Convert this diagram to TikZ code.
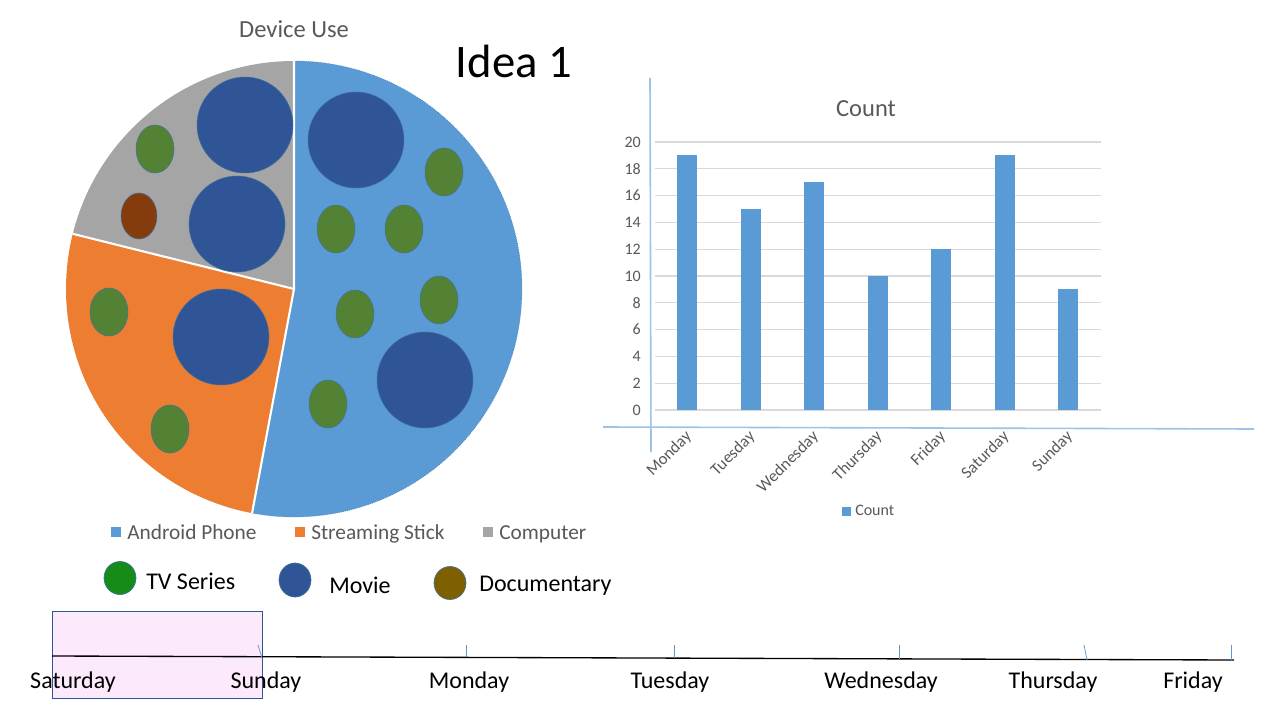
\documentclass[tikz,border=0pt]{standalone}
\usepackage{fontspec}
\setmainfont{Carlito}
\definecolor{android}{HTML}{5B9BD5}
\definecolor{stick}{HTML}{ED7D31}
\definecolor{comp}{HTML}{A5A5A5}
\definecolor{moviec}{HTML}{2F5597}
\definecolor{tvg}{HTML}{548235}
\definecolor{docb}{HTML}{843C0C}
\definecolor{tvleg}{HTML}{178B17}
\definecolor{docleg}{HTML}{7F6000}
\definecolor{edgec}{HTML}{41719C}
\definecolor{txtgray}{HTML}{595959}
\definecolor{gridc}{HTML}{D9D9D9}
\definecolor{axisblue}{HTML}{9DC3E6}
\definecolor{pinkc}{HTML}{FDE9FC}
\tikzset{
  moviedisc/.style={fill=moviec, draw=edgec, line width=0.4pt},
  tvdisc/.style={fill=tvg, draw=edgec, line width=0.4pt},
  docdisc/.style={fill=docb, draw=edgec, line width=0.4pt},
  graytxt/.style={inner sep=0pt, text=txtgray},
  blacktxt/.style={inner sep=0pt, text=black},
  tick/.style={draw=android, line width=0.6pt},
}
\begin{document}
\begin{tikzpicture}[x=0.75pt,y=-0.75pt]
\useasboundingbox[fill=white] (0,0) rectangle (1280,720);

% ---------- Pie chart ----------
\node[graytxt, anchor=base, font=\fontsize{18.4}{22}\selectfont] (ptitle) at (294,38) {Device Use};
\node[blacktxt, anchor=base, font=\fontsize{35}{42}\selectfont] (idea) at (514,78) {Idea 1};

\begin{scope}[shift={(294,289)}]
  \fill[android] (0,0) -- (-90:228) arc[start angle=-90, end angle=100.6, radius=228] -- cycle;
  \draw[android!85!black, line width=0.5pt, densely dotted] (-90:228) arc[start angle=-90, end angle=100.6, radius=228];
  \fill[stick] (0,0) -- (100.6:228) arc[start angle=100.6, end angle=194, radius=228] -- cycle;
  \fill[comp] (0,0) -- (194:228) arc[start angle=194, end angle=270, radius=228] -- cycle;
  \draw[white, line width=1.6pt] (-90:228) -- (0,0) -- (100.6:228);
  \draw[white, line width=1.6pt] (0,0) -- (194:228);
\end{scope}

% computer slice
\filldraw[moviedisc] (245,125) circle[radius=48];
\filldraw[moviedisc] (237,224) circle[radius=48];
\filldraw[tvdisc] (155,149) ellipse[x radius=19, y radius=24];
\filldraw[docdisc] (139,216) ellipse[x radius=18, y radius=23];
% android slice
\filldraw[moviedisc] (356,140) circle[radius=48];
\filldraw[moviedisc] (425,380) circle[radius=48];
\filldraw[tvdisc] (444,172) ellipse[x radius=19, y radius=24];
\filldraw[tvdisc] (336,229) ellipse[x radius=19, y radius=24];
\filldraw[tvdisc] (404,229) ellipse[x radius=19, y radius=24];
\filldraw[tvdisc] (439,300) ellipse[x radius=19, y radius=24];
\filldraw[tvdisc] (355,314) ellipse[x radius=19, y radius=24];
\filldraw[tvdisc] (328,404) ellipse[x radius=19, y radius=24];
% streaming slice
\filldraw[moviedisc] (221,337) circle[radius=48];
\filldraw[tvdisc] (109,312) ellipse[x radius=19, y radius=24];
\filldraw[tvdisc] (170,429) ellipse[x radius=19, y radius=24];

% pie legend
\fill[android] (111,527) rectangle (121,537);
\node[graytxt, anchor=base west, font=\fontsize{16}{19}\selectfont] (lgA) at (127,539) {Android Phone};
\fill[stick] (295,527) rectangle (305,537);
\node[graytxt, anchor=base west, font=\fontsize{16}{19}\selectfont] (lgS) at (311,539) {Streaming Stick};
\fill[comp] (483,527) rectangle (493,537);
\node[graytxt, anchor=base west, font=\fontsize{16}{19}\selectfont] (lgC) at (499,539) {Computer};

% genre legend
\filldraw[fill=tvleg, draw=edgec, line width=0.5pt] (120,578) ellipse[x radius=16, y radius=16.5];
\node[blacktxt, anchor=base west, font=\fontsize{18}{22}\selectfont] (lgTV) at (146,589) {TV Series};
\filldraw[fill=moviec, draw=edgec, line width=0.5pt] (295,580) ellipse[x radius=16, y radius=17];
\node[blacktxt, anchor=base west, font=\fontsize{18}{22}\selectfont] (lgMov) at (329,593) {Movie};
\filldraw[fill=docleg, draw=edgec, line width=0.5pt] (450,583) ellipse[x radius=16, y radius=16.5];
\node[blacktxt, anchor=base west, font=\fontsize{18}{22}\selectfont] (lgDoc) at (479,591) {Documentary};

% ---------- Bar chart ----------
\node[graytxt, anchor=base, font=\fontsize{18.4}{22}\selectfont] (ctitle) at (866,117) {Count};
\foreach \v in {0,2,...,20}{
  \draw[gridc, line width=0.8pt] (655,{410-13.4*\v}) -- (1101,{410-13.4*\v});
  \node[graytxt, anchor=east, font=\fontsize{12}{14}\selectfont] at (641,{410-13.4*\v}) {\v};
}
\foreach \i/\val/\day in {0/19/Monday,1/15/Tuesday,2/17/Wednesday,3/10/Thursday,4/12/Friday,5/19/Saturday,6/9/Sunday}{
  \fill[android] ({677+63.5*\i},410) rectangle ({697+63.5*\i},{410-13.4*\val});
  \node[graytxt, anchor=north east, rotate=45, font=\fontsize{12.5}{15}\selectfont] at ({684+63.5*\i},429) {\day};
}
\draw[axisblue, line width=1.2pt] (650,78) -- (651,452);
\draw[axisblue, line width=1.2pt] (603,427) -- (1254,429);
\fill[android] (842,507) rectangle (851,516);
\node[graytxt, anchor=base west, font=\fontsize{12}{14}\selectfont] (clg) at (855,515) {Count};

% ---------- Timeline ----------
\fill[pinkc] (52,611) rectangle (262,698);
\draw[moviec, line width=0.6pt] (52,611) rectangle (262,698);
\draw[black, line width=1pt] (52,656) -- (1234,660);
\draw[tick] (258,645) -- (262,658);
\draw[tick] (466,645) -- (466,657);
\draw[tick] (674,645) -- (674,658);
\draw[tick] (899,645) -- (899,659);
\draw[tick] (1084,645) -- (1087,660);
\draw[tick] (1231,645) -- (1231,660);
\foreach \x/\d in {73/Saturday,266/Sunday,469/Monday,670/Tuesday,881/Wednesday,1053/Thursday,1193/Friday}{
  \node[blacktxt, anchor=base, font=\fontsize{18}{22}\selectfont] at (\x,688) {\d};
}
\end{tikzpicture}
\end{document}
